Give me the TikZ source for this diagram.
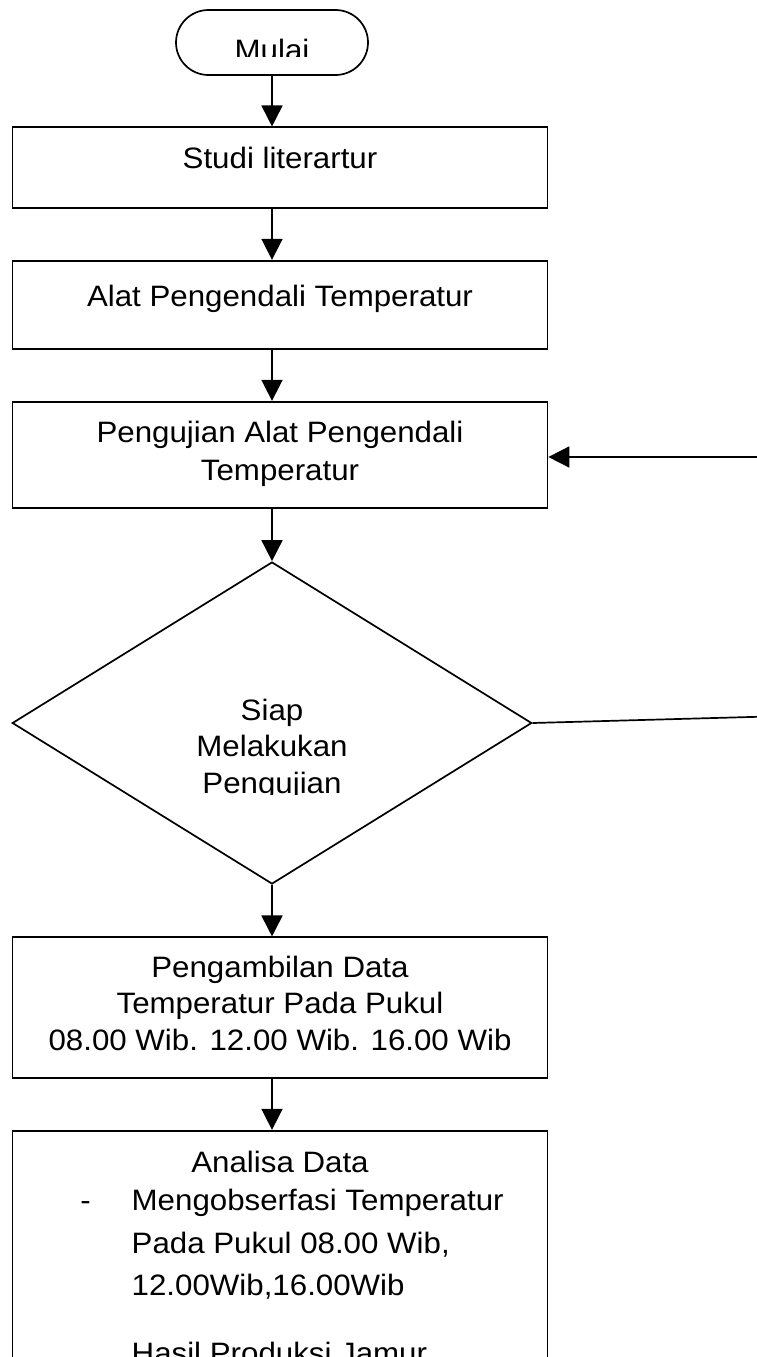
\documentclass[tikz,border=0pt]{standalone}
\usepackage{fontspec}
\setmainfont[FakeStretch=1.06]{Liberation Sans}
\usetikzlibrary{shapes.geometric,arrows.meta}
\begin{document}
\begin{tikzpicture}[x=1pt,y=-1pt,
 lw/.style={line width=1.7pt},
 boxnode/.style={draw, lw, rectangle, inner sep=0pt, minimum width=535pt},
 txt/.style={font=\fontsize{29.5}{36}\selectfont, inner sep=0pt, anchor=base},
 txtl/.style={txt, anchor=base west},
 arr/.style={lw, -{Triangle[length=21pt,width=21pt]}},
]
\useasboundingbox (0,0) rectangle (756,1357);
\fill[white] (0,0) rectangle (756,1357);

% start
\node[draw, lw, rectangle, rounded corners=32.5pt, minimum width=192pt, minimum height=65pt, inner sep=0pt] (start) at (272,42.5) {};
\begin{scope}
\clip (0,0) rectangle (756,56.5);
\node[txt] (tstart) at (272,60) {Mulai};
\end{scope}

% boxes
\node[boxnode, minimum height=81pt] (b1) at (280,167.8) {};
\node[txt] (t1) at (280,168.5) {Studi literartur};

\node[boxnode, minimum height=88.6pt] (b2) at (280,305) {};
\node[txt] (t2) at (280,306) {Alat Pengendali Temperatur};

\node[boxnode, minimum height=106.6pt] (b3) at (280,455) {};
\node[txt] (t3a) at (280,442) {Pengujian Alat Pengendali};
\node[txt] (t3b) at (280,480) {Temperatur};

% decision
\node[draw, lw, diamond, inner sep=0pt, minimum width=519.5pt, minimum height=322pt] (dec) at (272,723) {};
\node[txt] (td1) at (272,720) {Siap};
\node[txt] (td2) at (272,756.5) {Melakukan};
\begin{scope}
\clip (0,0) rectangle (756,794.5);
\node[txt] (td3) at (272,793) {Pengujian};
\end{scope}

\node[boxnode, minimum height=140.4pt] (b4) at (280,1007.5) {};
\node[txt] (t4a) at (280,977) {Pengambilan Data};
\node[txt] (t4b) at (280,1013.5) {Temperatur Pada Pukul};
\node[txt] (t4c) at (280,1050.5) {08.00 Wib. 12.00 Wib. 16.00 Wib};

\node[boxnode, minimum height=289.3pt] (b5) at (280,1275.35) {};
\node[txt] (t5a) at (280,1172) {Analisa Data};
\node[txt] (t5dash) at (85.5,1210) {-};
\node[txtl] (t5b) at (131.5,1210) {Mengobserfasi Temperatur};
\node[txtl] (t5c) at (131.5,1253) {Pada Pukul 08.00 Wib,};
\node[txtl] (t5d) at (131.5,1295) {12.00Wib,16.00Wib};
\node[txtl] (t5e) at (131.5,1363) {Hasil Produksi Jamur};

% connectors
\draw[arr] (start.south) -- (start.south |- b1.north);
\draw[arr] (b1.south -| start) -- (b2.north -| start);
\draw[arr] (b2.south -| start) -- (b3.north -| start);
\draw[arr] (b3.south -| start) -- (dec.north);
\draw[arr] (dec.south) -- (b4.north -| start);
\draw[arr] (b4.south -| start) -- (b5.north -| start);

\coordinate (fb1) at (772,716.4);
\coordinate (fb2) at (772,457);
\draw[arr] (dec.east) -- (fb1) -- (fb2) -- (fb2 -| b3.east);
\end{tikzpicture}
\end{document}
